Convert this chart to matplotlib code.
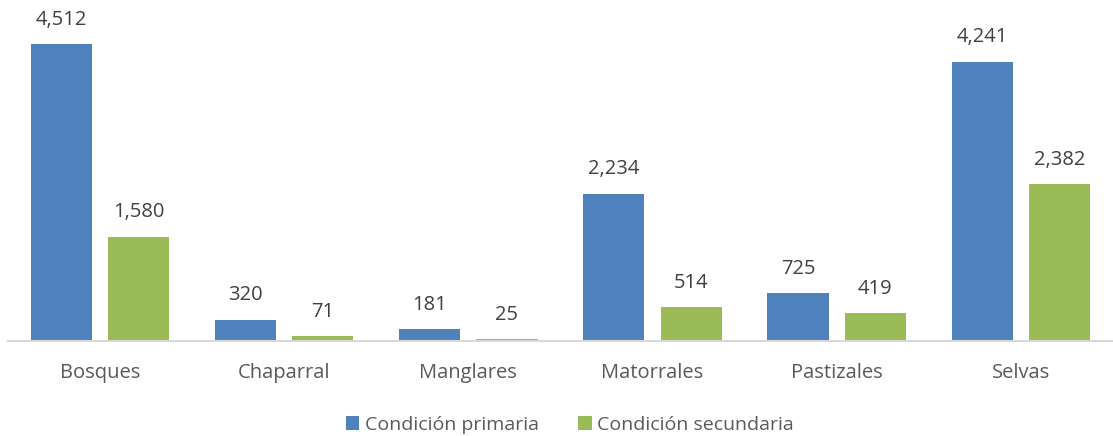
import numpy as np
import matplotlib.pyplot as plt

categorias = ["Bosques", "Chaparral", "Manglares", "Matorrales", "Pastizales", "Selvas"]
primaria = [4512, 320, 181, 2234, 725, 4241]
secundaria = [1580, 71, 25, 514, 419, 2382]

plt.rcParams['font.family'] = ['Open Sans', 'DejaVu Sans']

fig = plt.figure(figsize=(11.13, 4.36), dpi=100)
ax = fig.add_axes([0.007, 0.218, 0.993, 0.782])

x = np.arange(len(categorias))
w = 0.333
off = 0.21
b1 = ax.bar(x - off, primaria, w, color="#4F81BD", label="Condición primaria")
b2 = ax.bar(x + off, secundaria, w, color="#9BBB59", label="Condición secundaria")

for bars, vals in ((b1, primaria), (b2, secundaria)):
    for b, v in zip(bars, vals):
        ax.text(b.get_x() + b.get_width() / 2, v + 220, f"{v:,}",
                ha="center", va="bottom", fontsize=14.5, color="#404040")

ax.set_xlim(-0.5, len(categorias) - 0.5)
ax.set_ylim(0, 5181)
ax.set_xticks(x)
ax.set_xticklabels(categorias, fontsize=14.5, color="#595959")
ax.tick_params(axis="x", length=0, pad=16)
ax.set_yticks([])
for s in ("top", "right", "left"):
    ax.spines[s].set_visible(False)
ax.spines["bottom"].set_color("#D9D9D9")
ax.spines["bottom"].set_linewidth(1.5)

fig.legend(handles=[b1, b2], loc="center", bbox_to_anchor=(0.512, 0.025), ncol=2,
           frameon=False, fontsize=14, labelcolor="#595959",
           handlelength=0.7, handleheight=0.7, handletextpad=0.3, columnspacing=2.0)

fig.savefig("out.png", dpi=100)
